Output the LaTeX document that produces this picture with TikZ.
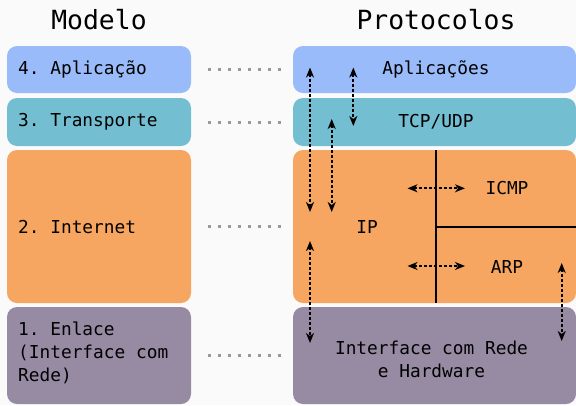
\documentclass[tikz,border=0pt]{standalone}
\usepackage{fontspec}
\setmonofont{DejaVu Sans Mono}
\usetikzlibrary{arrows.meta}

\definecolor{bgcol}{HTML}{FAFAFA}
\definecolor{appcol}{HTML}{99BBF9}
\definecolor{trancol}{HTML}{74BED1}
\definecolor{netcol}{HTML}{F7A662}
\definecolor{linkcol}{HTML}{978BA4}
\definecolor{dotcol}{HTML}{999999}

\tikzset{
  layer/.style={draw=none, rounded corners=10pt, inner sep=0pt},
  lbl/.style={font=\ttfamily\fontsize{17.8}{23}\selectfont, inner sep=0pt},
  title/.style={font=\ttfamily\fontsize{26.4}{30}\selectfont, inner sep=0pt},
  pair/.style={dotcol, line width=3pt, dash pattern=on 3pt off 7pt,
               shorten <=17pt, shorten >=12pt},
  tip/.style={Stealth[length=10pt,width=8pt,inset=3pt]},
  flow/.style={line width=1.7pt, dash pattern=on 3pt off 2pt, {Stealth[length=10pt,width=8pt,inset=3pt]}-{Stealth[length=10pt,width=8pt,inset=3pt]}},
  divider/.style={line width=1.4pt, black}
}

\begin{document}
\begin{tikzpicture}[x=1pt, y=-1pt]
  % canvas
  \fill[bgcol] (0,0) rectangle (576,405);
  \useasboundingbox (0,0) rectangle (576,405);

  % column headings
  \node[title] (tm) at (99,20) {Modelo};
  \node[title] (tp) at (436,20) {Protocolos};

  % model layers
  \node[layer, fill=appcol,  minimum width=184pt, minimum height=47pt]  (m4) at (99,69.5) {};
  \node[layer, fill=trancol, minimum width=184pt, minimum height=48pt]  (m3) at (99,122) {};
  \node[layer, fill=netcol,  minimum width=184pt, minimum height=153pt] (m2) at (99,226.5) {};
  \node[layer, fill=linkcol, minimum width=184pt, minimum height=97pt]  (m1) at (99,355.5) {};

  \node[lbl, anchor=west] (m4t) at (18,69.5) {4. Aplicação};
  \node[lbl, anchor=west] (m3t) at (18,122) {3. Transporte};
  \node[lbl, anchor=west] (m2t) at (18,227) {2. Internet};
  \node[lbl, anchor=west, align=left] (m1t) at (18,353) {1. Enlace\\(Interface com\\Rede)};

  % protocol layers
  \node[layer, fill=appcol,  minimum width=283pt, minimum height=47pt]  (p4) at (434.5,69.5) {};
  \node[layer, fill=trancol, minimum width=283pt, minimum height=48pt]  (p3) at (434.5,122) {};
  \node[layer, fill=netcol,  minimum width=283pt, minimum height=153pt] (p2) at (434.5,226.5) {};
  \node[layer, fill=linkcol, minimum width=283pt, minimum height=97pt]  (p1) at (434.5,355.5) {};

  % internet layer split into IP / ICMP / ARP
  \coordinate (vtop) at (436,150);
  \coordinate (vbot) at (436,303);
  \coordinate (hl) at (436,227);
  \coordinate (hr) at (576,227);
  \draw[divider] (vtop) -- (vbot);
  \draw[divider] (hl) -- (hr);

  \node[lbl] (p4t) at (436,69.5) {Aplicações};
  \node[lbl] (p3t) at (436,122) {TCP/UDP};
  \node[lbl] (ip)   at (367,227) {IP};
  \node[lbl] (icmp) at (507,188) {ICMP};
  \node[lbl] (arp)  at (507,267) {ARP};
  \node[lbl, align=center] (p1t) at (431.5,359) {Interface com Rede\\e Hardware};

  % model-to-protocol correspondence
  \draw[pair] (m4.east) -- (p4.west);
  \draw[pair] (m3.east) -- (p3.west);
  \draw[pair] (m2.east) -- (p2.west);
  \draw[pair] (m1.east) -- (p1.west);

  % data flow between protocols
  \coordinate (a1) at (310,67.5);  \coordinate (a2) at (310,212);
  \coordinate (b1) at (353.3,67.5); \coordinate (b2) at (353.3,126);
  \coordinate (c1) at (331.7,119);  \coordinate (c2) at (331.7,212);
  \coordinate (d1) at (310,241);    \coordinate (d2) at (310,343);
  \coordinate (e1) at (561.7,263);  \coordinate (e2) at (561.7,341);
  \coordinate (f1) at (407.5,188.3); \coordinate (f2) at (465,188.3);
  \coordinate (g1) at (407.5,266);  \coordinate (g2) at (465,266);
  \draw[flow] (a1) -- (a2);
  \draw[flow] (b1) -- (b2);
  \draw[flow] (c1) -- (c2);
  \draw[flow] (d1) -- (d2);
  \draw[flow] (e1) -- (e2);
  \draw[flow] (f1) -- (f2);
  \draw[flow] (g1) -- (g2);
\end{tikzpicture}
\end{document}
